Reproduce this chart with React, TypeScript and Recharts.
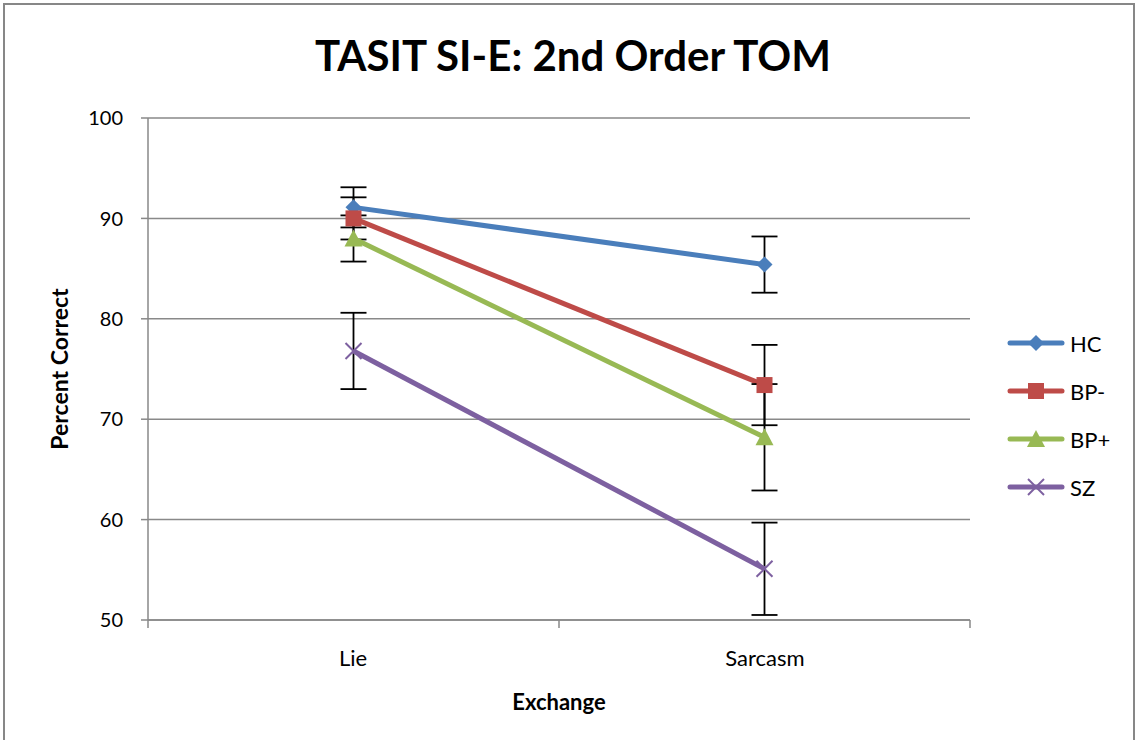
import {
  CartesianGrid,
  ErrorBar,
  Label,
  Legend,
  Line,
  LineChart,
  XAxis,
  YAxis,
} from 'recharts';

const CATEGORIES = ['Lie', 'Sarcasm'];
const HC = [91.1, 85.4];
const HC_ERR = [2.0, 2.8];
const BP_MINUS = [90.0, 73.4];
const BP_MINUS_ERR = [2.1, 4.0];
const BP_PLUS = [88.0, 68.2];
const BP_PLUS_ERR = [2.3, 5.3];
const SZ = [76.8, 55.1];
const SZ_ERR = [3.8, 4.6];
const Y_TICKS = [50, 60, 70, 80, 90, 100];

const FONT = 'Lato, "Open Sans", sans-serif';

const SERIES = [
  { key: 'HC', name: 'HC', color: '#4A7EBB', marker: 'diamond' },
  { key: 'BPm', name: 'BP-', color: '#BE4B48', marker: 'square' },
  { key: 'BPp', name: 'BP+', color: '#98B954', marker: 'triangle' },
  { key: 'SZ', name: 'SZ', color: '#7D60A0', marker: 'x' },
];

const data = CATEGORIES.map((name, i) => ({
  pos: i + 0.5,
  name,
  HC: HC[i],
  HCerr: HC_ERR[i],
  BPm: BP_MINUS[i],
  BPmerr: BP_MINUS_ERR[i],
  BPp: BP_PLUS[i],
  BPperr: BP_PLUS_ERR[i],
  SZ: SZ[i],
  SZerr: SZ_ERR[i],
}));

function Marker({ type, cx, cy, color }: { type: string; cx: number; cy: number; color: string }) {
  if (type === 'diamond') {
    return <polygon points={`${cx},${cy - 8} ${cx + 8},${cy} ${cx},${cy + 8} ${cx - 8},${cy}`} fill={color} />;
  }
  if (type === 'square') {
    return <rect x={cx - 8} y={cy - 8} width={16} height={16} fill={color} />;
  }
  if (type === 'triangle') {
    return <polygon points={`${cx},${cy - 9} ${cx + 9},${cy + 8} ${cx - 9},${cy + 8}`} fill={color} />;
  }
  return (
    <g stroke={color} strokeWidth={2}>
      <line x1={cx - 8} y1={cy - 8} x2={cx + 8} y2={cy + 8} />
      <line x1={cx - 8} y1={cy + 8} x2={cx + 8} y2={cy - 8} />
    </g>
  );
}

function makeDot(type: string, color: string) {
  return (props: any) => (
    <Marker key={`${type}-${props.index}`} type={type} cx={props.cx} cy={props.cy} color={color} />
  );
}

function LegendContent() {
  return (
    <div style={{ fontFamily: FONT, fontSize: 22, color: '#000' }}>
      {SERIES.map((s) => (
        <div key={s.key} style={{ display: 'flex', alignItems: 'center', height: 48 }}>
          <svg width={60} height={24}>
            <line x1={4} y1={12} x2={56} y2={12} stroke={s.color} strokeWidth={5} strokeLinecap='round' />
            <Marker type={s.marker} cx={30} cy={12} color={s.color} />
          </svg>
          <span style={{ marginLeft: 4 }}>{s.name}</span>
        </div>
      ))}
    </div>
  );
}

export default function App() {
  return (
    <div style={{ position: 'absolute', left: 0, top: 0, width: 1138, height: 740, background: '#fff', overflow: 'hidden' }}>
      <div
        style={{
          position: 'absolute',
          left: 3,
          top: 3,
          width: 1128,
          height: 780,
          border: '2px solid #878787',
        }}
      />
      <div
        style={{
          position: 'absolute',
          left: 0,
          top: 30,
          width: 1146,
          textAlign: 'center',
          fontFamily: FONT,
          fontWeight: 'bold',
          fontSize: 42,
          color: '#000',
        }}>
        TASIT SI-E: 2nd Order TOM
      </div>
      <div style={{ position: 'absolute', left: 0, top: 0 }}>
        <LineChart
          width={1138}
          height={740}
          data={data}
          margin={{ top: 118, right: 168, bottom: 30, left: 0 }}>
          <CartesianGrid vertical={false} stroke='#898989' strokeWidth={1.5} />
          <XAxis
            xAxisId='b'
            dataKey='name'
            type='category'
            padding={{ left: 205, right: 205 }}
            axisLine={false}
            tickLine={false}
            tickSize={0}
            tickMargin={22}
            height={82}
            tick={{ fontSize: 22, fill: '#000', fontFamily: FONT }}>
            <Label
              value='Exchange'
              position='insideBottom'
              offset={0}
              style={{ fontSize: 22, fontWeight: 'bold', fill: '#000', fontFamily: FONT }}
            />
          </XAxis>
          <XAxis
            xAxisId='a'
            dataKey='pos'
            type='number'
            domain={[0, CATEGORIES.length]}
            ticks={[0, 1, 2]}
            tick={() => <g />}
            tickLine={{ stroke: '#898989', strokeWidth: 1.5 }}
            tickSize={8}
            height={8}
            stroke='#898989'
            strokeWidth={1.5}
          />
          <YAxis
            type='number'
            domain={[50, 100]}
            ticks={Y_TICKS}
            width={148}
            tickSize={7}
            tickMargin={18}
            stroke='#898989'
            strokeWidth={1.5}
            tick={{ fontSize: 20, fill: '#000', fontFamily: FONT }}>
            <Label
              value='Percent Correct'
              angle={-90}
              position='center'
              dx={-14}
              style={{ fontSize: 23, fontWeight: 'bold', fill: '#000', fontFamily: FONT, textAnchor: 'middle' }}
            />
          </YAxis>
          <Legend
            layout='horizontal'
            verticalAlign='middle'
            align='center'
            wrapperStyle={{ position: 'absolute', left: 1006, top: 319, width: 130 }}
            content={() => <LegendContent />}
          />
          {SERIES.map((s) => (
            <Line
              key={s.key}
              xAxisId='a'
              dataKey={s.key}
              name={s.name}
              stroke={s.color}
              strokeWidth={5}
              dot={makeDot(s.marker, s.color)}
              activeDot={false}
              isAnimationActive={false}>
              <ErrorBar dataKey={`${s.key}err`} width={13} strokeWidth={1.8} stroke='#000' direction='y' />
            </Line>
          ))}
        </LineChart>
      </div>
    </div>
  );
}
